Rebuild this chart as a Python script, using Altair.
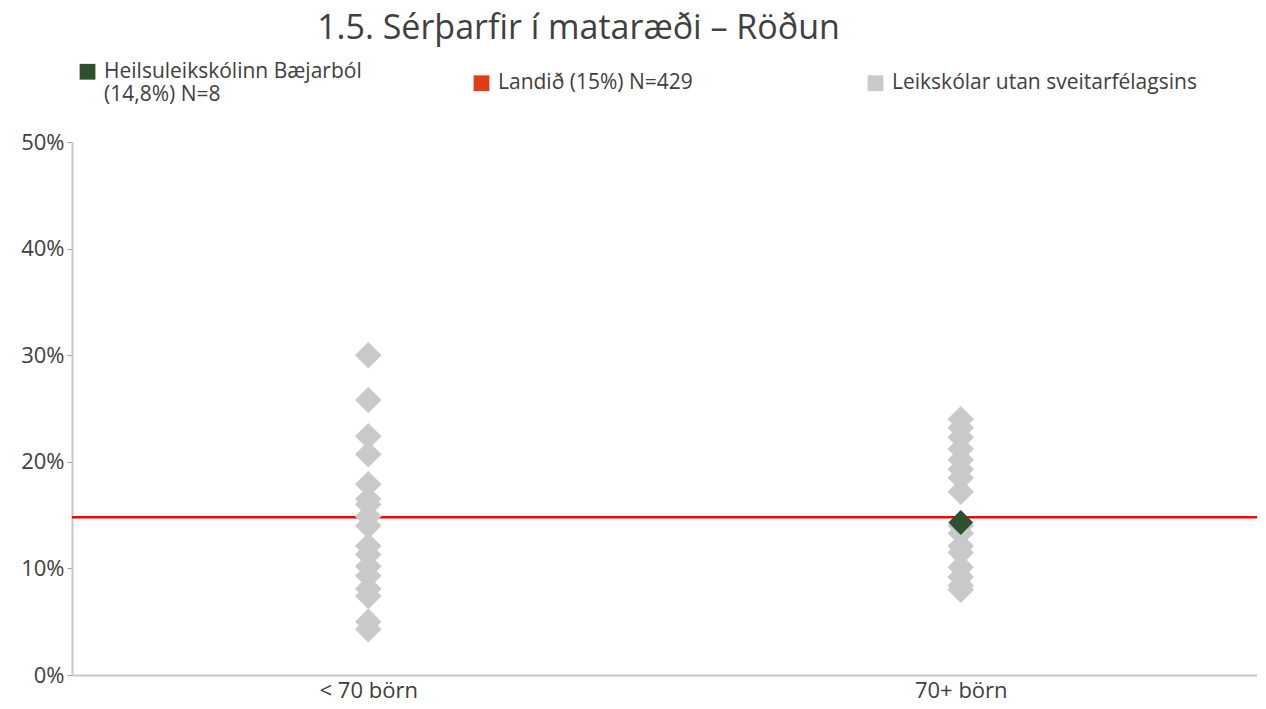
import altair as alt
import pandas as pd

categories = ["< 70 börn", "70+ börn"]
series_names = [
    "Heilsuleikskólinn Bæjarból (14,8%) N=8",
    "Landið (15%) N=429",
    "Leikskólar utan sveitarfélagsins",
]
series_colors = ["#2e5230", "#e03c17", "#c9c9c9"]

others_small = [30.0, 25.8, 22.4, 20.7, 17.9, 16.5, 16.0, 14.9, 14.0,
                12.1, 11.3, 10.2, 9.3, 8.1, 7.4, 5.0, 4.3]
others_large = [24.0, 23.2, 22.3, 21.2, 20.2, 19.3, 18.5, 17.2, 14.0,
                13.3, 12.1, 11.5, 10.1, 9.2, 8.4, 8.0]
school_value = 14.3
school_category = "70+ börn"
national_value = 14.8

rows = []
for v in others_small:
    rows.append({"cat": categories[0], "val": v / 100, "series": series_names[2]})
for v in others_large:
    rows.append({"cat": categories[1], "val": v / 100, "series": series_names[2]})
rows.append({"cat": school_category, "val": school_value / 100, "series": series_names[0]})
df = pd.DataFrame(rows)
line_df = pd.DataFrame({"val": [national_value / 100]})

FONT = "Open Sans"
W = 400
TXT = "#404040"

x_enc = alt.X("cat:N", sort=categories, title=None,
              scale=alt.Scale(domain=categories, paddingInner=0, paddingOuter=0),
              axis=alt.Axis(labelAngle=0, ticks=False, domainColor="#c8c8c8", domainWidth=2,
                            labelFontSize=22, labelColor=TXT, labelFont=FONT,
                            labelFontWeight=W, labelPadding=5))
y_enc = alt.Y("val:Q", title=None,
              scale=alt.Scale(domain=[0, 0.5], nice=False),
              axis=alt.Axis(format=".0%", values=[0, 0.1, 0.2, 0.3, 0.4, 0.5], grid=False,
                            domainColor="#c8c8c8", domainWidth=2, tickColor="#a0a0a0",
                            tickSize=5, labelFontSize=22, labelColor=TXT, labelFont=FONT,
                            labelFontWeight=W, labelPadding=3))

gray = alt.Chart(df[df.series == series_names[2]]).mark_point(
    shape="diamond", filled=True, size=700, opacity=1
).encode(
    x=x_enc, y=y_enc,
    color=alt.Color("series:N", scale=alt.Scale(domain=series_names, range=series_colors),
                    legend=alt.Legend(title=None, orient="none", legendX=5, legendY=-81,
                                      direction="horizontal", columns=3, gridAlign="all",
                                      columnPadding=62, symbolType="square", symbolSize=250,
                                      symbolStrokeWidth=0, symbolOpacity=1,
                                      labelFontSize=21, labelColor=TXT, labelFont=FONT,
                                      labelFontWeight=W,
                                      labelLimit=600, labelOffset=6,
                                      labelExpr="datum.label == 'Heilsuleikskólinn Bæjarból (14,8%) N=8' ? ['Heilsuleikskólinn Bæjarból', '(14,8%) N=8'] : datum.label")),
)

green = alt.Chart(df[df.series == series_names[0]]).mark_point(
    shape="diamond", filled=True, size=620, opacity=1
).encode(
    x=x_enc, y=y_enc,
    color=alt.Color("series:N", scale=alt.Scale(domain=series_names, range=series_colors)),
)

rule = alt.Chart(line_df).mark_rule(color="#ff0000", strokeWidth=2.5).encode(
    y=alt.Y("val:Q", scale=alt.Scale(domain=[0, 0.5], nice=False)),
)

chart = alt.layer(rule, gray, green).properties(
    width=1185, height=533,
    padding={"left": 64, "top": 134, "right": 0, "bottom": 30},
    autosize=alt.AutoSizeParams(type="none"),
    title=alt.TitleParams("1.5. Sérþarfir í mataræði – Röðun", anchor="middle", dx=-86,
                          fontSize=34, font=FONT, fontWeight=W, color=TXT,
                          offset=15),
).configure_view(stroke=None)

chart.save("out.html", embed_options={"renderer": "svg", "actions": False})
